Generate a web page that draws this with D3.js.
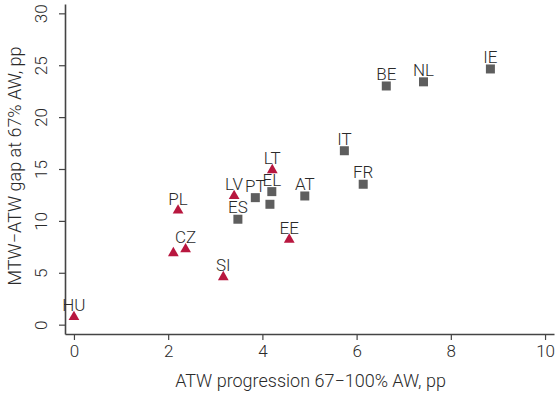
<!DOCTYPE html>
<html>
<head>
<meta charset="utf-8">
<script src="https://cdn.jsdelivr.net/npm/d3@7"></script>
<style>
  html, body { margin: 0; padding: 0; background: #fff; }
  text { font-family: Roboto, "Noto Sans", sans-serif; font-weight: 300; fill: #2a2a2a; }
</style>
</head>
<body>
<svg id="chart" width="555" height="394"></svg>
<script>
// Group A (squares)
const sqLabels = ["IE", "NL", "BE", "IT", "FR", "AT", "EL", "", "PT", "ES"];
const sqX      = [8.84, 7.42, 6.63, 5.74, 6.14, 4.90, 4.20, 4.16, 3.85, 3.48];
const sqY      = [24.64, 23.40, 23.00, 16.76, 13.53, 12.40, 12.82, 11.60, 12.24, 10.16];
// Group B (triangles)
const trLabels = ["LT", "LV", "PL", "CZ", "", "EE", "SI", "HU"];
const trX      = [4.21, 3.40, 2.21, 2.37, 2.11, 4.57, 3.17, 0.00];
const trY      = [14.90, 12.40, 11.00, 7.28, 6.90, 8.20, 4.59, 0.74];

const xTicks = [0, 2, 4, 6, 8, 10];
const yTicks = [0, 5, 10, 15, 20, 25, 30];
const xTitle = "ATW progression 67\u2212100% AW, pp";
const yTitle = "MTW\u2212ATW gap at 67% AW, pp";

const svg = d3.select("#chart");
const mLeft = 65, mRight = 554, mTop = 4, mBottom = 334;

const x = d3.scaleLinear().domain([-0.19, 10.19]).range([mLeft, mRight]);
const y = d3.scaleLinear().domain([-0.9, 30.9]).range([mBottom, mTop]);

const axisColor = "#444";

// X axis
const gx = svg.append("g").attr("transform", `translate(0,${mBottom})`)
  .call(d3.axisBottom(x).tickValues(xTicks).tickFormat(d3.format("d")).tickSize(6).tickSizeOuter(0).tickPadding(5));
gx.select(".domain").attr("stroke", axisColor).attr("stroke-width", 1.6);
gx.selectAll(".tick line").attr("stroke", axisColor).attr("stroke-width", 1.2);
gx.selectAll(".tick text").attr("font-size", 17).attr("font-family", "Roboto").attr("font-weight", 300).attr("fill", "#2a2a2a");

// Y axis
const gy = svg.append("g").attr("transform", `translate(${mLeft},0)`)
  .call(d3.axisLeft(y).tickValues(yTicks).tickFormat(d3.format("d")).tickSize(6).tickSizeOuter(0).tickPadding(5));
gy.select(".domain").attr("stroke", axisColor).attr("stroke-width", 1.6);
gy.selectAll(".tick line").attr("stroke", axisColor).attr("stroke-width", 1.2);
gy.selectAll(".tick text")
  .attr("font-size", 17).attr("font-family", "Roboto").attr("font-weight", 300).attr("fill", "#2a2a2a")
  .attr("x", null).attr("dy", null)
  .attr("text-anchor", "middle")
  .attr("transform", "translate(-18,0) rotate(-90)");

// Titles
svg.append("text").attr("x", (mLeft + mRight) / 2 + 1).attr("y", 387)
  .attr("text-anchor", "middle").attr("font-size", 18).text(xTitle);
svg.append("text").attr("transform", `translate(21,166) rotate(-90)`)
  .attr("text-anchor", "middle").attr("font-size", 18).text(yTitle);

const sqData = sqLabels.map((l, i) => ({ l, x: sqX[i], y: sqY[i] }));
const trData = trLabels.map((l, i) => ({ l, x: trX[i], y: trY[i] }));

svg.append("g").selectAll("rect").data(sqData).join("rect")
  .attr("x", d => x(d.x) - 4.5).attr("y", d => y(d.y) - 4.5)
  .attr("width", 9).attr("height", 9).attr("fill", "#5e5e5e");

const tri = d3.symbol().type(d3.symbolTriangle).size(50);
svg.append("g").selectAll("path").data(trData).join("path")
  .attr("d", tri).attr("transform", d => `translate(${x(d.x)},${y(d.y)})`)
  .attr("fill", "#b8173f");

// Labels
svg.append("g").selectAll("text").data(sqData.concat(trData).filter(d => d.l)).join("text")
  .attr("x", d => x(d.x)).attr("y", d => y(d.y) - 6)
  .attr("text-anchor", "middle").attr("font-size", 17)
  .text(d => d.l);
</script>
</body>
</html>
